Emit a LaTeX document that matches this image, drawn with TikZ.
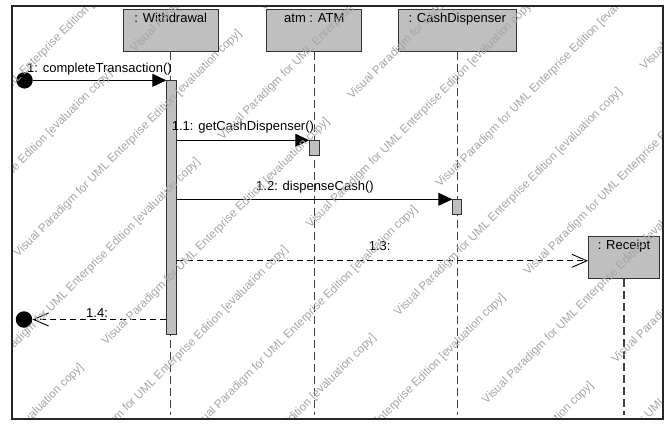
\documentclass[tikz,border=0pt]{standalone}
\usepackage{fontspec}
\setmainfont{Liberation Sans}
\usetikzlibrary{arrows.meta}
\newcommand{\wmtext}{Visual Paradigm for UML Enterprise Edition [evaluation copy]}
\begin{document}
\begin{tikzpicture}[x=1pt,y=-1pt,
  lbl/.style={font=\fontsize{13}{15}\selectfont, inner sep=0pt, anchor=base west},
  objname/.style={font=\fontsize{13}{15}\selectfont, inner sep=0pt, anchor=north},
  objbox/.style={draw=black!80, fill=black!25, line width=1pt, inner sep=0pt, anchor=north west},
  actbox/.style={draw=black!80, fill=black!25, line width=0.8pt, inner sep=0pt, anchor=north west},
  lifeline/.style={draw=black!75, line width=1.2pt, dash pattern=on 8pt off 4pt},
  callmsg/.style={draw=black, line width=0.9pt, -{Triangle[length=14pt,width=13pt]}},
  replymsg/.style={draw=black, line width=0.9pt, dash pattern=on 6pt off 4pt,
                   -{Straight Barb[length=15pt,width=13pt,line width=0.9pt]}},
  endpoint/.style={circle, fill=black, inner sep=0pt, minimum size=16.5pt},
  wm/.style={font=\fontsize{11.7}{13}\selectfont, text=black!35, rotate=45,
             anchor=base west, inner sep=0pt}
]
\useasboundingbox (0,0) rectangle (669,424);

% lifeline heads
\node[objbox, minimum width=95pt,  minimum height=42pt] (bW) at (122.7,9) {};
\node[objbox, minimum width=95pt,  minimum height=42pt] (bA) at (266.3,9) {};
\node[objbox, minimum width=118pt, minimum height=42pt] (bC) at (397.7,9) {};
\node[objbox, minimum width=71pt,  minimum height=42pt] (rec) at (588,236) {};
\node[objname] at ([yshift=-4pt]bW.north) {: Withdrawal};
\node[objname] at ([yshift=-4pt]bA.north) {atm : ATM};
\node[objname] at ([yshift=-4pt]bC.north) {: CashDispenser};
\node[objname] at ([yshift=-4pt]rec.north) {: Receipt};

% lifelines
\coordinate (llend) at (0,415);
\draw[lifeline] (bW.south) -- (bW.south |- llend);
\draw[lifeline] (bA.south) -- (bA.south |- llend);
\draw[lifeline] (bC.south) -- (bC.south |- llend);
\draw[lifeline] (rec.south) -- (rec.south |- llend);

% activations
\node[actbox, minimum width=9.4pt, minimum height=254pt] (aW) at (166.3,80.3) {};
\node[actbox, minimum width=9.7pt, minimum height=14.3pt] (aA) at (309.3,140.3) {};
\node[actbox, minimum width=9pt,   minimum height=15pt]   (aC) at (452.3,199.3) {};

% found / lost message ends
\node[endpoint] (src) at (24.5,80.3) {};
\node[endpoint] (dst) at (24,319.5) {};

% messages
\draw[callmsg] (src) -- (src -| aW.west);
\node[lbl] at (27,72) {1: completeTransaction()};

\draw[callmsg] (aW.east |- aA.north) -- (aA.north west);
\node[lbl] at (171.7,130) {1.1: getCashDispenser()};

\draw[callmsg] (aW.east |- aC.north) -- (aC.north west);
\node[lbl] at (256,190) {1.2: dispenseCash()};

\coordinate (recin) at ([yshift=-3.3pt]rec.west);
\draw[replymsg] (aW.east |- recin) -- (recin);
\node[lbl] at (368.7,250) {1.3:};

\draw[replymsg] (aW.west |- dst) -- (dst);
\node[lbl] at (86,317.5) {1.4:};

% evaluation watermark
\begin{scope}
  \clip (12,6) rectangle (663,419);
  \foreach \j in {-1,...,5}{
    \foreach \k in {-1,0,1}{
      \pgfmathsetmacro\s{187+176*\j}
      \pgfmathsetmacro\t{82+492*\k}
      \node[wm] at ({(\s+\t)/2},{(\s-\t)/2}) {\wmtext};
    }
  }
  \foreach \j in {-1,...,4}{
    \foreach \k in {-2,-1,0}{
      \pgfmathsetmacro\s{276+176*\j}
      \pgfmathsetmacro\t{252+492*\k}
      \node[wm] at ({(\s+\t)/2},{(\s-\t)/2}) {\wmtext};
    }
  }
\end{scope}

% frame
\draw[draw=black!85, line width=1.3pt] (12,6) rectangle (663,419);
\end{tikzpicture}
\end{document}
